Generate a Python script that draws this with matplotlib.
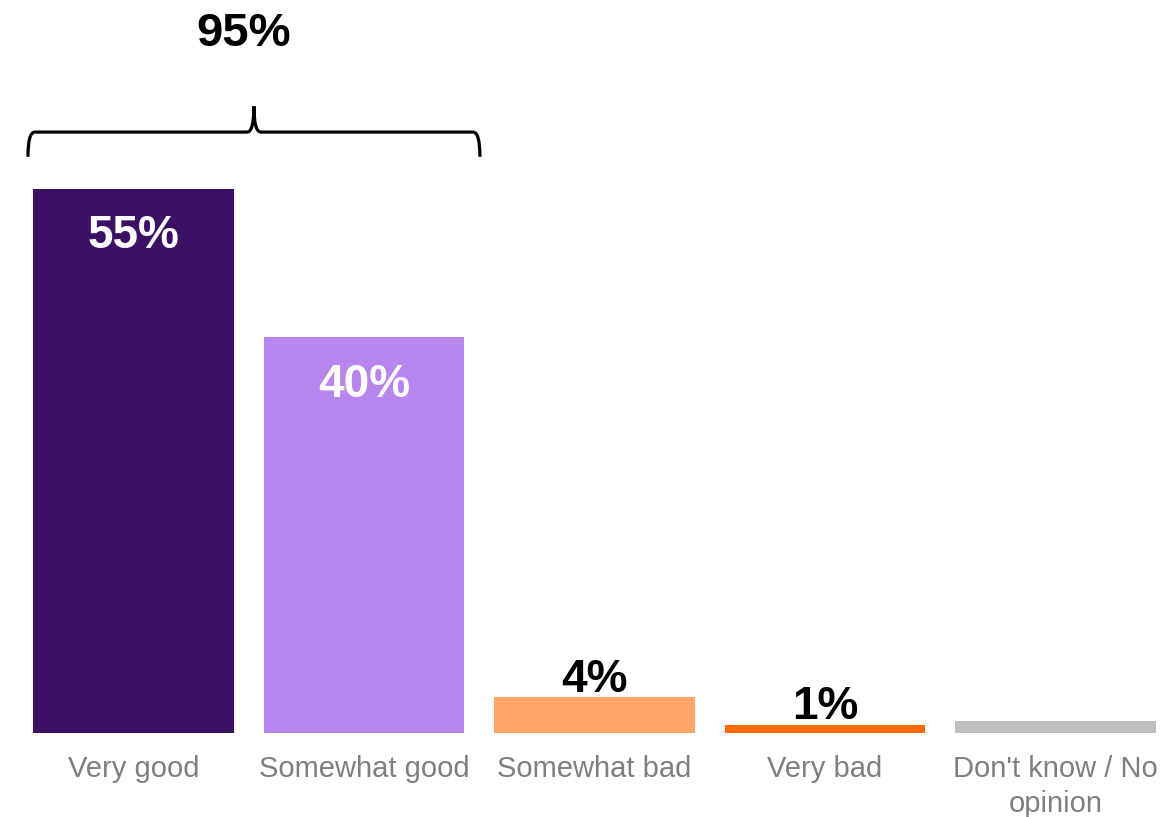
import matplotlib
matplotlib.use("Agg")
import matplotlib.pyplot as plt
from matplotlib.path import Path
from matplotlib.patches import PathPatch

plt.rcParams["font.family"] = ["Liberation Sans", "DejaVu Sans"]

categories = ["Very good", "Somewhat good", "Somewhat bad", "Very bad",
              "Don't know / No\nopinion"]
values = [55, 40, 3.6, 0.8, 1.2]
value_labels = ["55%", "40%", "4%", "1%", ""]
colors = ["#3C1064", "#B685EE", "#FFA567", "#FF6A00", "#BFBFBF"]
total_label = "95%"

fig = plt.figure(figsize=(11.73, 8.17), dpi=100)
ax = fig.add_axes([18.25 / 1173, 84 / 817, 1152.5 / 1173, 732.6 / 817])

x = list(range(len(categories)))
ax.bar(x, values, width=0.872, color=colors)

for xi, v, lab in zip(x, values, value_labels):
    if not lab:
        continue
    if v > 10:
        ax.text(xi, v - 4.8, lab, ha="center", va="center", color="white",
                fontsize=33, fontweight="bold")
    else:
        ax.text(xi, v + 1.8, lab, ha="center", va="center", color="black",
                fontsize=33, fontweight="bold")

# bracket over the two "good" bars
x0, x1 = -0.458, 1.503
xm = (x0 + x1) / 2
y_tip, y_line, y_peak = 58.2, 60.7, 63.3
dx = 0.03
verts = [
    (x0, y_tip), (x0, y_line), (x0 + dx, y_line),
    (xm - dx, y_line), (xm, y_line), (xm, y_peak),
    (xm, y_line), (xm + dx, y_line),
    (x1 - dx, y_line), (x1, y_line), (x1, y_tip),
]
codes = [Path.MOVETO, Path.CURVE3, Path.CURVE3,
         Path.LINETO, Path.CURVE3, Path.CURVE3,
         Path.CURVE3, Path.CURVE3,
         Path.LINETO, Path.CURVE3, Path.CURVE3]
ax.add_patch(PathPatch(Path(verts, codes), facecolor="none",
                       edgecolor="black", lw=2.3, clip_on=False))
ax.text(0.48, 70.6, total_label, ha="center", va="center", fontsize=34,
        fontweight="bold", color="black")

ax.set_xlim(-0.5, 4.5)
ax.set_ylim(0, 74)
ax.set_xticks(x)
ax.set_xticklabels(categories, fontsize=21, color="#7F7F7F", linespacing=1.3)
ax.tick_params(axis="x", length=0, pad=16)
ax.set_yticks([])
for s in ax.spines.values():
    s.set_visible(False)

fig.savefig("out.png", dpi=100)
